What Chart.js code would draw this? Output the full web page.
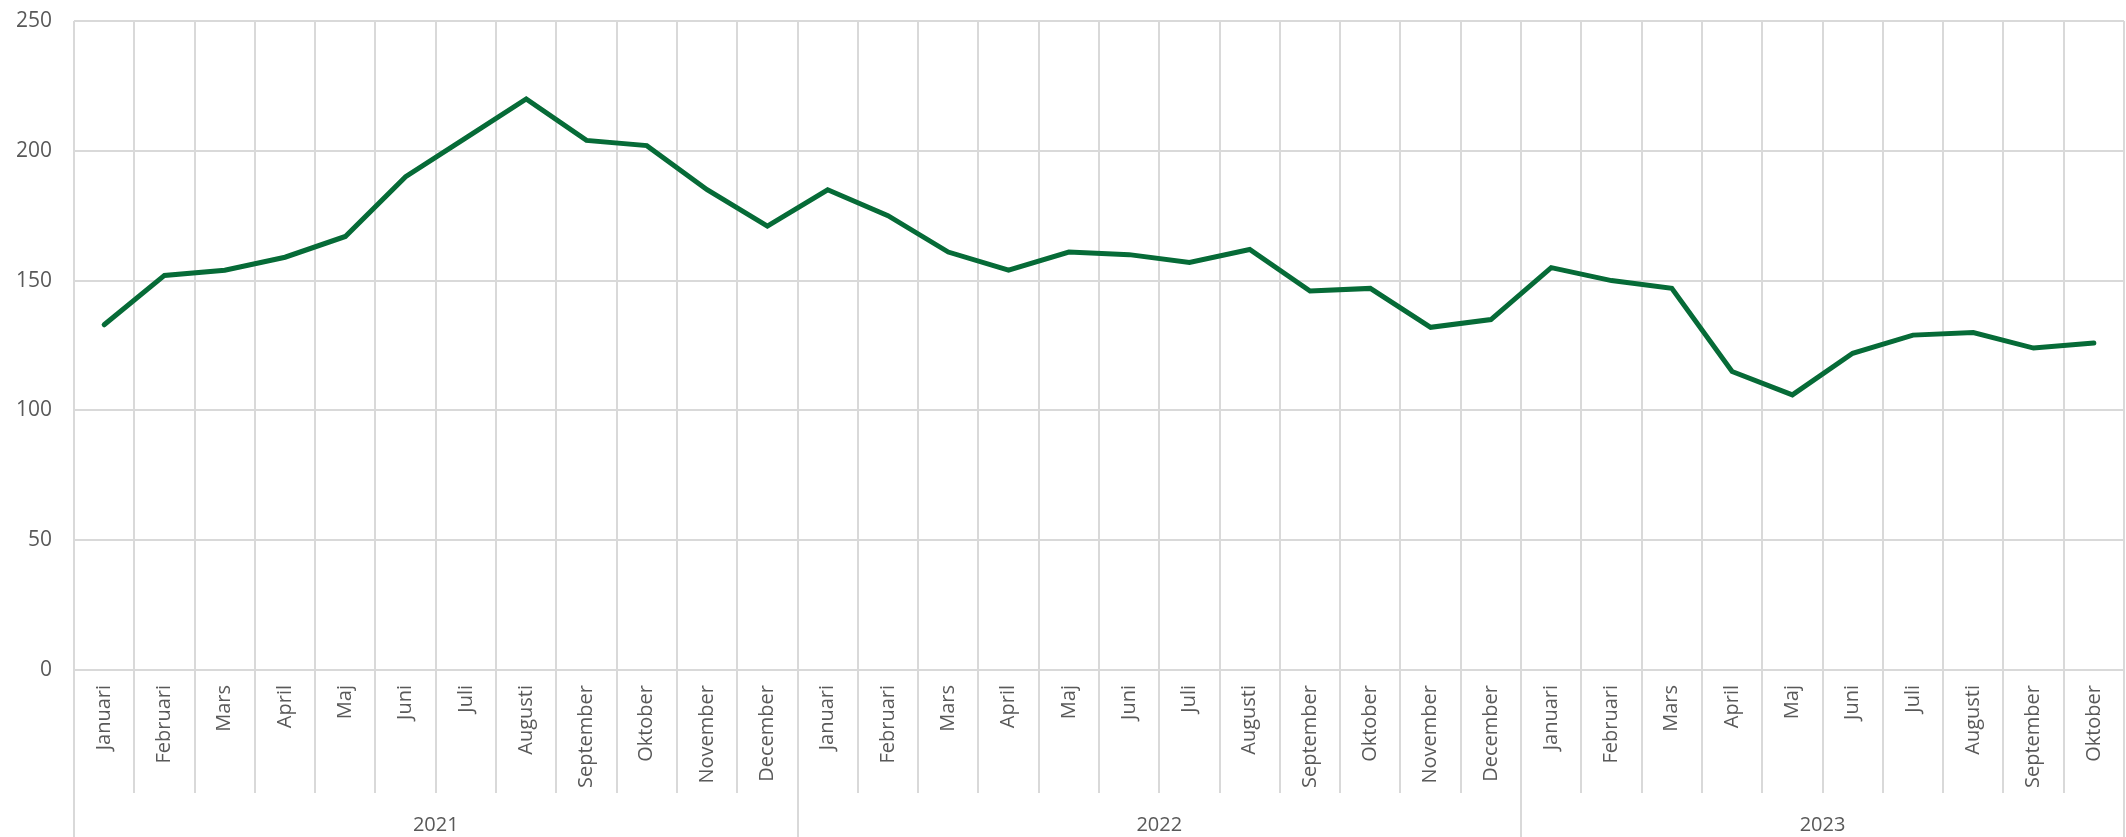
<!DOCTYPE html>
<html>
<head>
<meta charset="utf-8">
<script src="https://cdn.jsdelivr.net/npm/chart.js@4"></script>
<style>
    body { margin: 0; background: #fff; }
    #wrap { width: 2126px; height: 837px; position: relative; }
</style>
</head>
<body>
<div id="wrap"><canvas id="chart"></canvas></div>
<script>
const years = ["2021", "2022", "2023"];
const monthsPerYear = [12, 12, 10];
const monthNames = ["Januari", "Februari", "Mars", "April", "Maj", "Juni", "Juli",
    "Augusti", "September", "Oktober", "November", "December"];
const values = [
    133, 152, 154, 159, 167, 190, 205, 220, 204, 202, 185, 171,
    185, 175, 161, 154, 161, 160, 157, 162, 146, 147, 132, 135,
    155, 150, 147, 115, 106, 122, 129, 130, 124, 126
];
const yTicks = [0, 50, 100, 150, 200, 250];

const labels = [];
monthsPerYear.forEach(n => labels.push(...monthNames.slice(0, n)));

// year boundaries and midpoints on a 0..N linear scale
const bounds = [0];
const mids = {};
monthsPerYear.forEach((n, i) => {
    const start = bounds[bounds.length - 1];
    mids[start + n / 2] = years[i];
    bounds.push(start + n);
});
const total = bounds[bounds.length - 1];

const gridColor = "#d9d9d9";
const textColor = "#595959";
const font = "'Open Sans', 'DejaVu Sans', sans-serif";

new Chart(document.getElementById("chart"), {
    type: "line",
    data: {
        labels: labels,
        datasets: [{
            data: values,
            borderColor: "#066b37",
            borderWidth: 5,
            pointRadius: 0,
            tension: 0,
            borderCapStyle: "round",
            borderJoinStyle: "miter",
            fill: false
        }]
    },
    options: {
        responsive: true,
        maintainAspectRatio: false,
        animation: false,
        layout: { padding: { top: 21, right: 2, left: 0, bottom: 0 } },
        plugins: { legend: { display: false }, tooltip: { enabled: false } },
        scales: {
            y: {
                min: 0,
                max: 250,
                afterBuildTicks: s => { s.ticks = yTicks.map(v => ({ value: v })); },
                afterFit: s => { s.width = 74; s.paddingTop = 0; s.paddingBottom = 0; },
                border: { display: false },
                grid: { color: gridColor, lineWidth: 2, drawTicks: false },
                ticks: { color: textColor, padding: 22, font: { family: font, size: 21 } }
            },
            x: {
                type: "category",
                weight: 0,
                offset: true,
                afterFit: s => { s.height = 123; },
                border: { display: false },
                grid: { offset: true, color: gridColor, lineWidth: 2, tickLength: 123 },
                ticks: {
                    autoSkip: false,
                    minRotation: 90,
                    maxRotation: 90,
                    padding: -108,
                    color: textColor,
                    font: { family: font, size: 20 }
                }
            },
            years: {
                type: "linear",
                position: "bottom",
                weight: 1,
                min: 0,
                max: total,
                afterBuildTicks: s => {
                    const vals = bounds.concat(Object.keys(mids).map(Number)).sort((a, b) => a - b);
                    s.ticks = vals.map(v => ({ value: v }));
                },
                afterFit: s => { s.height = 44; },
                border: { display: false },
                grid: {
                    drawOnChartArea: false,
                    tickLength: 44,
                    lineWidth: 2,
                    color: ctx => (ctx.tick && bounds.includes(ctx.tick.value)) ? gridColor : "rgba(0,0,0,0)"
                },
                ticks: {
                    autoSkip: false,
                    maxRotation: 0,
                    padding: -24,
                    color: textColor,
                    font: { family: font, size: 20 },
                    callback: v => mids[v] || ""
                }
            }
        }
    }
});
</script>
</body>
</html>
